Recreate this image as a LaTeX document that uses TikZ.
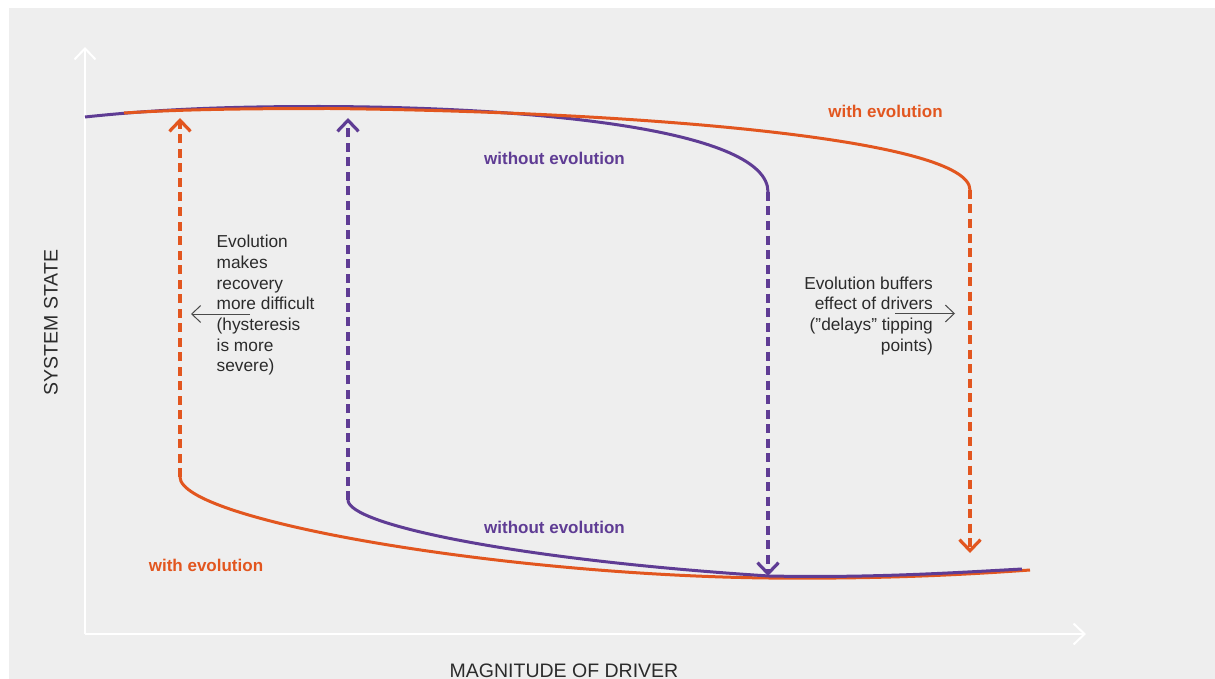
\documentclass[tikz,border=0pt]{standalone}
\usepackage{fontspec}
\setmainfont{Liberation Sans}
\usetikzlibrary{arrows.meta}
\definecolor{bg}{HTML}{EEEEEE}
\definecolor{evo}{HTML}{E2561F}
\definecolor{noevo}{HTML}{5F3C94}
\definecolor{txt}{HTML}{2B2B2B}
\definecolor{arr}{HTML}{4A4A4A}
\begin{document}
\begin{tikzpicture}[x=1pt,y=-1pt,
  curve/.style={line width=3pt},
  jump/.style={line width=3.2pt, dash pattern=on 9pt off 5.5pt, -{Straight Barb[length=11pt,width=21pt]}},
  axis/.style={white, line width=2pt, -{Straight Barb[length=11pt,width=21pt]}},
  note/.style={text=txt, font=\fontsize{17.3}{20.7}\selectfont, inner sep=0pt},
  tag/.style={font=\bfseries\fontsize{17}{20}\selectfont, inner sep=0pt},
  pointer/.style={arr, line width=1pt, -{Straight Barb[length=9pt,width=17pt]}},
  axlabel/.style={text=txt, font=\fontsize{19.5}{23}\selectfont, inner sep=0pt}
]
\useasboundingbox (0,0) rectangle (1215,679);
\fill[white] (0,0) rectangle (1215,679);
\fill[bg] (9,8) rectangle (1215,679);

% axes
\coordinate (O) at (85,634);
\coordinate (Ytop) at (85,47);
\coordinate (Xend) at (1086,634);
\draw[axis] (O) -- (Ytop);
\draw[axis] (O) -- (Xend);

% key points
\coordinate (pT0) at (85,117);
\coordinate (pTm) at (320,106.5);
\coordinate (pTe) at (768,192);
\coordinate (oT0) at (124,113);
\coordinate (oTm) at (330,108.5);
\coordinate (oTe) at (970,190);
\coordinate (oB0) at (180,477);
\coordinate (oBm) at (769,578);
\coordinate (oBe) at (1030,570);
\coordinate (pB0) at (348,500);
\coordinate (pBm) at (769,576);
\coordinate (pBe) at (1022,569);
\coordinate (oUp) at (180,118);
\coordinate (pUp) at (348,118);
\coordinate (pDn) at (768,576);
\coordinate (oDn) at (970,553);

% top curves
\draw[noevo, curve] (pT0) .. controls (160,109) and (230,106.5) .. (pTm)
  .. controls (540,107) and (768,130) .. (pTe);
\draw[evo, curve] (oT0) .. controls (180,109.5) and (240,108.5) .. (oTm)
  .. controls (650,112) and (970,140) .. (oTe);

% bottom curves
\draw[evo, curve] (oB0) .. controls (180,520) and (500,575) .. (oBm)
  .. controls (880,579) and (960,575) .. (oBe);
\draw[noevo, curve] (pB0) .. controls (348,525) and (520,560) .. (pBm)
  .. controls (870,578) and (950,573) .. (pBe);

% jumps
\draw[evo, jump] (oB0) -- (oUp);
\draw[noevo, jump] (pB0) -- (pUp);
\draw[noevo, jump] (pTe) -- (pDn);
\draw[evo, jump] (oTe) -- (oDn);

% labels
\node[tag, text=evo] (lWtop) at (885.5,111.5) {with evolution};
\node[tag, text=noevo] (lWOtop) at (554.5,158) {without evolution};
\node[tag, text=noevo] (lWObot) at (554.5,527) {without evolution};
\node[tag, text=evo] (lWbot) at (206,565.5) {with evolution};

\node[note, align=left, anchor=north west] (noteL) at (216.5,235)
  {Evolution\\makes\\recovery\\more difficult\\(hysteresis\\is more\\severe)};
\node[note, align=right, anchor=north east] (noteR) at (933,276.4)
  {Evolution buffers\\effect of drivers\\(”delays” tipping\\points)};

\coordinate (aLs) at (250,314);
\coordinate (aLe) at (191,314);
\coordinate (aRs) at (895,313.5);
\coordinate (aRe) at (955,313.5);
\draw[pointer] (aLs) -- (aLe);
\draw[pointer] (aRs) -- (aRe);

\node[axlabel] (xl) at (564,670.5) {MAGNITUDE OF DRIVER};
\node[axlabel, rotate=90] (yl) at (51,322.5) {SYSTEM STATE};
\end{tikzpicture}
\end{document}
